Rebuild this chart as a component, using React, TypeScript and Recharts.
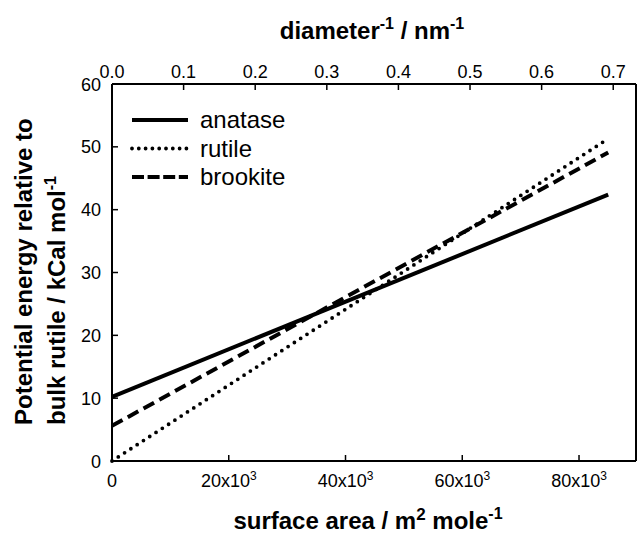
import { LineChart, Line, XAxis, YAxis } from 'recharts';

// surface area (m^2/mole) at the two ends of each fitted line
const surfaceArea = [0, 85000];
const anatase = [10.2, 42.4];
const rutile = [0, 51.3];
const brookite = [5.6, 49.1];

const bottomTicks = [0, 20000, 40000, 60000, 80000];
const topTicks = [0, 0.1, 0.2, 0.3, 0.4, 0.5, 0.6, 0.7];
const yTicks = [0, 10, 20, 30, 40, 50, 60];

// axis ranges: surface area and the matching inverse diameter at the right edge
const xMax = 89760;
const topMax = 0.7318;

const font = '"Liberation Sans", Arial, Helvetica, sans-serif';

const data = surfaceArea.map((x, i) => ({
  x,
  anatase: anatase[i],
  rutile: rutile[i],
  brookite: brookite[i],
}));

const series = [
  { key: 'anatase', width: 4, dash: undefined as string | undefined, legendDash: undefined as string | undefined, cap: 'butt' },
  { key: 'rutile', width: 3.8, dash: '0 7.5', legendDash: '0 6.8', cap: 'round' },
  { key: 'brookite', width: 4, dash: '12 6', legendDash: '12 3.6', cap: 'butt' },
];

function BottomTick({ x, y, payload }: any) {
  const v = payload.value;
  return (
    <text x={x} y={y} textAnchor="middle" fontFamily={font} fontSize={18} fill="#000">
      {v === 0 ? '0' : (
        <>
          {v / 1000}x10<tspan dy={-7} fontSize={12}>3</tspan>
        </>
      )}
    </text>
  );
}

function TopTick({ x, y, payload }: any) {
  return (
    <text x={x} y={y} textAnchor="middle" fontFamily={font} fontSize={18} fill="#000">
      {payload.value.toFixed(1)}
    </text>
  );
}

function LeftTick({ x, y, payload }: any) {
  return (
    <text x={x} y={y + 6.5} textAnchor="end" fontFamily={font} fontSize={18} fill="#000">
      {payload.value}
    </text>
  );
}

export default function App() {
  return (
    <div style={{ position: 'absolute', left: 0, top: 0, width: 637, height: 533, background: '#fff' }}>
      <LineChart width={637} height={533} data={data} margin={{ top: 0, right: 0, bottom: 0, left: 0 }}>
        <XAxis
          xAxisId="bottom"
          type="number"
          dataKey="x"
          domain={[0, xMax]}
          ticks={bottomTicks}
          orientation="bottom"
          height={72}
          axisLine={{ stroke: '#000', strokeWidth: 2 }}
          tickLine={{ stroke: '#000', strokeWidth: 1.5 }}
          tickSize={-6}
          tickMargin={32}
          tick={<BottomTick />}
        />
        <XAxis
          xAxisId="top"
          type="number"
          dataKey={(d: any) => (d.x * topMax) / xMax}
          domain={[0, topMax]}
          ticks={topTicks}
          orientation="top"
          height={84}
          allowDataOverflow
          axisLine={{ stroke: '#000', strokeWidth: 2 }}
          tickLine={{ stroke: '#000', strokeWidth: 1.5 }}
          tickSize={-6}
          tickMargin={12.5}
          tick={<TopTick />}
        />
        <YAxis
          yAxisId="left"
          type="number"
          domain={[0, 60]}
          ticks={yTicks}
          width={112}
          axisLine={{ stroke: '#000', strokeWidth: 2 }}
          tickLine={{ stroke: '#000', strokeWidth: 1.5 }}
          tickSize={-6}
          tickMargin={17}
          tick={<LeftTick />}
        />
        <YAxis
          yAxisId="right"
          orientation="right"
          type="number"
          domain={[0, 60]}
          width={1}
          tick={false}
          tickLine={false}
          axisLine={{ stroke: '#000', strokeWidth: 2 }}
        />
        {series.map((s) => (
          <Line
            key={s.key}
            xAxisId="bottom"
            yAxisId="left"
            type="linear"
            dataKey={s.key}
            stroke="#000"
            strokeWidth={s.width}
            strokeDasharray={s.dash}
            strokeLinecap={s.cap as any}
            dot={false}
            activeDot={false}
            isAnimationActive={false}
          />
        ))}
      </LineChart>

      {/* titles and legend */}
      <svg width={637} height={533} style={{ position: 'absolute', left: 0, top: 0, pointerEvents: 'none' }}>
        <text x={372} y={39} textAnchor="middle" fontFamily={font} fontWeight="bold" fontSize={24} fill="#000">
          diameter<tspan dy={-10} fontSize={16}>-1</tspan>
          <tspan dy={10}> / nm</tspan>
          <tspan dy={-10} fontSize={16}>-1</tspan>
        </text>
        <text x={368} y={529} textAnchor="middle" fontFamily={font} fontWeight="bold" fontSize={24} fill="#000">
          surface area / m<tspan dy={-9} fontSize={17}>2</tspan>
          <tspan dy={9}> mole</tspan>
          <tspan dy={-10} fontSize={16}>-1</tspan>
        </text>
        <text transform="translate(32,425) rotate(-90)" fontFamily={font} fontWeight="bold" fontSize={24} fill="#000">
          Potential energy relative to
        </text>
        <text transform="translate(65,425) rotate(-90)" fontFamily={font} fontWeight="bold" fontSize={24} fill="#000">
          bulk rutile / kCal mol<tspan dy={-9} fontSize={16}>-1</tspan>
        </text>

        {series.map((s, i) => {
          const cy = 120 + i * 28.5;
          return (
            <g key={s.key}>
              <line
                x1={132}
                x2={188}
                y1={cy}
                y2={cy}
                stroke="#000"
                strokeWidth={s.width}
                strokeDasharray={s.legendDash}
                strokeLinecap={s.cap as any}
              />
              <text x={200} y={cy + 8} fontFamily={font} fontSize={24} fill="#000">
                {s.key}
              </text>
            </g>
          );
        })}
      </svg>
    </div>
  );
}
